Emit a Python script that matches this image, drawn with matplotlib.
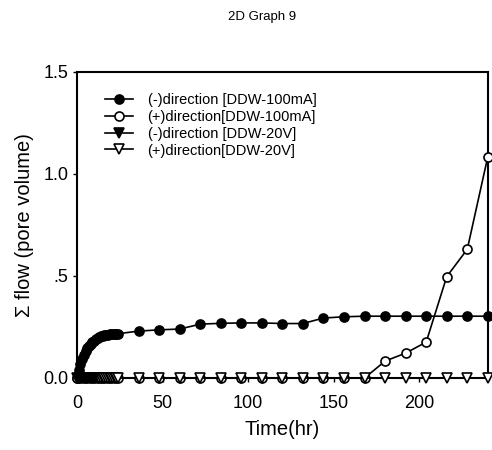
import matplotlib
matplotlib.use('Agg')
import matplotlib.pyplot as plt
import numpy as np

plt.rcParams['font.family'] = ['Liberation Sans', 'DejaVu Sans']

# %% data
# (-)direction [DDW-100mA]
t_neg100 = [0, 1, 2, 3, 4, 5, 6, 7, 8, 9, 10, 11, 12, 13, 14, 15, 16, 17, 18,
            19, 20, 21, 22, 23, 24, 36, 48, 60, 72, 84, 96, 108, 120, 132,
            144, 156, 168, 180, 192, 204, 216, 228, 240]
f_neg100 = [0.0, 0.04, 0.07, 0.095, 0.115, 0.13, 0.145, 0.155, 0.165, 0.175,
            0.183, 0.19, 0.195, 0.2, 0.204, 0.207, 0.21, 0.212, 0.213, 0.214,
            0.215, 0.215, 0.216, 0.216, 0.217, 0.23, 0.236, 0.24, 0.264,
            0.268, 0.27, 0.27, 0.267, 0.267, 0.294, 0.30, 0.303, 0.303,
            0.303, 0.303, 0.303, 0.303, 0.303]
# (+)direction[DDW-100mA]
t_pos100 = [0, 2, 4, 6, 8, 10, 12, 14, 16, 18, 20, 22, 24, 36, 48, 60, 72,
            84, 96, 108, 120, 132, 144, 156, 168, 180, 192, 204, 216, 228, 240]
f_pos100 = [0.0, 0.0, 0.0, 0.0, 0.0, 0.0, 0.0, 0.0, 0.0, 0.0, 0.0, 0.0, 0.0,
            0.0, 0.0, 0.0, 0.0, 0.0, 0.0, 0.0, 0.0, 0.0, 0.0, 0.0, 0.0,
            0.083, 0.122, 0.176, 0.497, 0.631, 1.085]
# (-)direction [DDW-20V]
t_neg20 = [0, 1, 2, 3, 4, 5, 6, 7, 8, 9, 10]
f_neg20 = [0.0, 0.0, 0.0, 0.0, 0.0, 0.0, 0.0, 0.0, 0.0, 0.0, 0.0]
# (+)direction[DDW-20V]
t_pos20 = [11, 12, 13, 14, 15, 16, 17, 18, 19, 20, 21, 22, 23, 24, 36, 48,
           60, 72, 84, 96, 108, 120, 132, 144, 156, 168, 180, 192, 204, 216,
           228, 240]
f_pos20 = [0.0] * len(t_pos20)

labels = ['(-)direction [DDW-100mA]', '(+)direction[DDW-100mA]',
          '(-)direction [DDW-20V]', '(+)direction[DDW-20V]']

# %% plot
fig = plt.figure(figsize=(4.92, 4.5), dpi=100)
ax = fig.add_axes([0.1565, 0.16, 0.835, 0.68])

ms = 6.5
mew = 1.2
ax.plot(t_neg100, f_neg100, '-o', color='k', mfc='k', mec='k', ms=ms,
        mew=mew, lw=1.2, label=labels[0], clip_on=False, zorder=3)
ax.plot(t_pos100, f_pos100, '-o', color='k', mfc='white', mec='k', ms=ms,
        mew=mew, lw=1.2, label=labels[1], clip_on=False, zorder=4)
ax.plot(t_neg20, f_neg20, '-v', color='k', mfc='k', mec='k', ms=ms,
        mew=mew, lw=1.2, label=labels[2], clip_on=False, zorder=6)
ax.plot(t_pos20, f_pos20, '-v', color='k', mfc='white', mec='k', ms=ms,
        mew=mew, lw=1.2, label=labels[3], clip_on=False, zorder=5)

ax.set_xlim(0, 240)
ax.set_ylim(0, 1.5)
ax.set_xticks([0, 50, 100, 150, 200])
ax.set_yticks([0, 0.5, 1.0, 1.5])
ax.set_yticklabels(['0.0', '.5', '1.0', '1.5'])
ax.tick_params(direction='out', length=3, width=1, labelsize=13, pad=3)
ax.tick_params(axis='x', pad=9)
for s in ax.spines.values():
    s.set_linewidth(1.5)

ax.set_xlabel('Time(hr)', fontsize=14.5, labelpad=6)
ax.set_ylabel('\u03a3 flow (pore volume)', fontsize=14.5, labelpad=7)

ax.legend(loc='upper left', bbox_to_anchor=(0.054, 0.951), frameon=False,
          fontsize=10.5, handlelength=1.92, handletextpad=1.0,
          labelspacing=0.2, borderaxespad=0)

fig.text(0.533, 0.962, '2D Graph 9', ha='center', va='center', fontsize=9.5)

fig.savefig('out.png', dpi=100)
